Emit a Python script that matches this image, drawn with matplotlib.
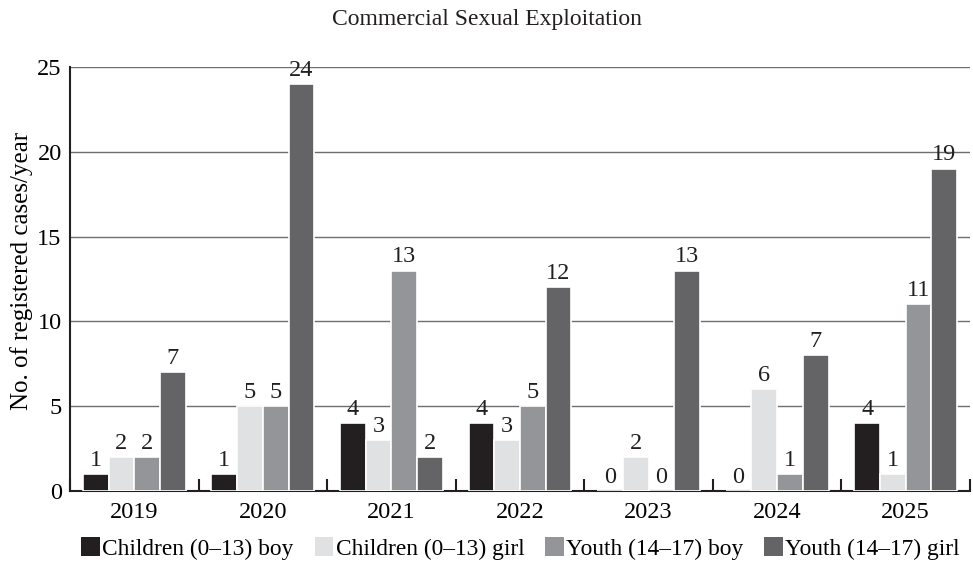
"""
Commercial Sexual Exploitation - registered cases per year
"""

import matplotlib.pyplot as plt
import numpy as np
from matplotlib.patches import Patch

plt.rcParams.update(
    {
        "font.family": "Liberation Serif",
        "font.size": 17,
        "figure.dpi": 100,
    }
)

years = ["2019", "2020", "2021", "2022", "2023", "2024", "2025"]
series = [
    "Children (0\u201313) boy",
    "Children (0\u201313) girl",
    "Youth (14\u201317) boy",
    "Youth (14\u201317) girl",
]
child_boy = [1, 1, 4, 4, 0, 0, 4]
child_girl = [2, 5, 3, 3, 2, 6, 1]
youth_boy = [2, 5, 13, 5, 0, 1, 11]
youth_girl = [7, 24, 2, 12, 13, 8, 19]
# printed labels as in the source (2024 bar drawn at 8 but labelled 7)
youth_girl_labels = [7, 24, 2, 12, 13, 7, 19]

values = [child_boy, child_girl, youth_boy, youth_girl]
labels = [child_boy, child_girl, youth_boy, youth_girl_labels]
colors = ["#231f20", "#e0e1e3", "#939598", "#646466"]

fig = plt.figure(figsize=(9.73, 5.85))
ax = fig.add_axes([0.0719, 0.1607, 0.9250, 0.7248])

x = np.arange(len(years))
w = 0.2
for i, (vals, labs, c) in enumerate(zip(values, labels, colors)):
    pos = x + (i - 1.5) * w
    ax.bar(pos, vals, width=w, color=c, edgecolor="white", linewidth=1.2, zorder=3)
    for p, v, l in zip(pos, vals, labs):
        ax.text(p, v + 0.2, str(l), ha="center", va="bottom", fontsize=17.5, color="#231f20", zorder=4)

ax.set_xlim(-0.5, len(years) - 0.5)
ax.set_ylim(0, 25)
ax.set_yticks([0, 5, 10, 15, 20, 25])
ax.set_xticks(x)
ax.set_xticklabels(years)
ax.set_xticks(np.arange(len(years) + 1) - 0.5, minor=True)
ax.tick_params(axis="x", which="major", length=0, labelsize=17.5, pad=8)
ax.tick_params(axis="x", which="minor", direction="in", length=9, width=1.5, color="#231f20")
ax.tick_params(axis="y", length=0, labelsize=17.5, pad=6)

ax.yaxis.grid(True, color="#6d6e70", linewidth=1.0, zorder=0)
ax.set_axisbelow(True)
ax.spines["top"].set_visible(False)
ax.spines["right"].set_visible(False)
ax.spines["left"].set_linewidth(1.5)
ax.spines["bottom"].set_linewidth(1.5)
ax.spines["left"].set_color("#231f20")
ax.spines["bottom"].set_color("#231f20")

ax.set_ylabel("No. of registered cases/year", fontsize=18)
ax.yaxis.set_label_coords(-0.041, 0.52)
fig.text(0.5, 0.9675, "Commercial Sexual Exploitation", ha="center", va="center", fontsize=17, color="#231f20")

handles = [Patch(facecolor=c, edgecolor="none") for c in colors]
fig.legend(
    handles,
    series,
    loc="center",
    bbox_to_anchor=(0.535, 0.063),
    ncol=4,
    frameon=False,
    fontsize=16.8,
    handlelength=0.8,
    handleheight=0.9,
    handletextpad=0.1,
    columnspacing=0.9,
)

plt.savefig("out.png", dpi=100, facecolor="white")
plt.close()
